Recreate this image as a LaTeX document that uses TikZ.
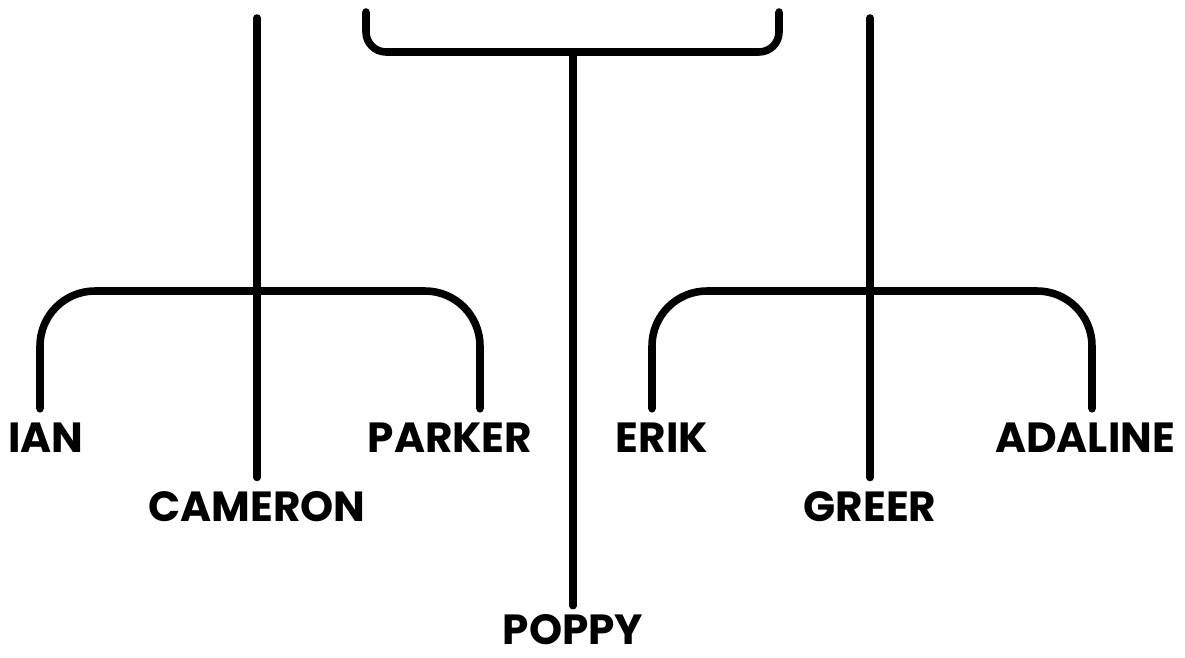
\documentclass[tikz,border=0pt]{standalone}
\usepackage{fontspec}
\usepackage{tikz}
\usetikzlibrary{calc,positioning}
\newfontfamily\namefont{Poppins}
\definecolor{inkblack}{RGB}{0,0,0}

\begin{document}
\begin{tikzpicture}[x=0.02cm, y=-0.02cm,
    treeline/.style={inkblack, line width=4.3pt, line cap=round},
    kid/.style={inkblack, font=\namefont\bfseries\fontsize{24}{24}\selectfont, inner sep=8pt}]
    \useasboundingbox (0,0) rectangle (1185,658);

    % names
    \node[kid] (ian)     at (46,438)   {IAN};
    \node[kid] (parker)  at (450,438)  {PARKER};
    \node[kid] (cameron) at (257,507)  {CAMERON};
    \node[kid] (erik)    at (662,438)  {ERIK};
    \node[kid] (greer)   at (870,507)  {GREER};
    \node[kid] (adaline) at (1085,438) {ADALINE};
    \node[kid, inner ysep=5pt] (poppy) at (573,630) {POPPY};

    % top bracket down to poppy
    \coordinate (topL) at (366,12);
    \coordinate (topR) at (779,12);
    \coordinate (topmid) at (573,52);
    \draw[treeline, rounded corners=0.4cm] (topL) |- (topmid) -| (topR);
    \draw[treeline] (topmid) -- (poppy.north);

    % left family
    \coordinate (camtop) at (257,18);
    \coordinate (leftmid) at (257,291);
    \draw[treeline] (camtop) -- (cameron.north);
    \draw[treeline, rounded corners=1.1cm]
        ($(ian.north)+(-6,0)$) |- (leftmid) -| ($(parker.north)+(30,0)$);

    % right family
    \coordinate (greertop) at (870,18);
    \coordinate (rightmid) at (870,291);
    \draw[treeline] (greertop) -- (greer.north);
    \draw[treeline, rounded corners=1.1cm]
        ($(erik.north)+(-10,0)$) |- (rightmid) -| ($(adaline.north)+(7,0)$);
\end{tikzpicture}
\end{document}
